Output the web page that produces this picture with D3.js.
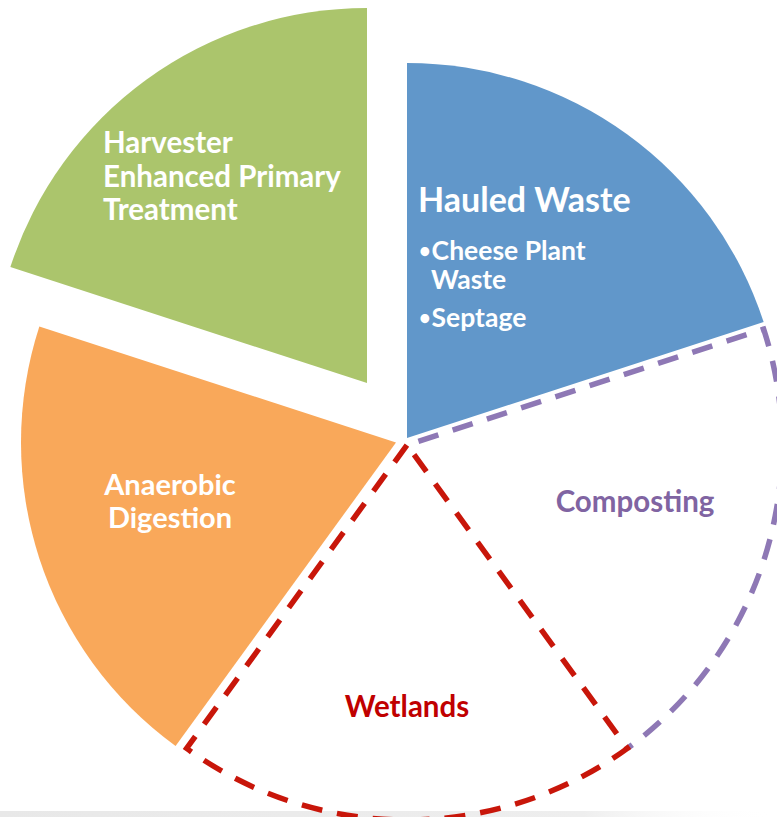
<!DOCTYPE html>
<html>
<head>
<meta charset="utf-8">
<script src="https://cdn.jsdelivr.net/npm/d3@7"></script>
<style>
  html, body { margin: 0; padding: 0; background: #ffffff; }
  svg { display: block; }
</style>
</head>
<body>
<svg id="chart" width="777" height="817"></svg>
<script>
// Treatment pathways, one equal share each, clockwise from 12 o'clock
const categories = ["Hauled Waste", "Composting", "Wetlands", "Anaerobic Digestion", "Harvester Enhanced Primary Treatment"];
const shares = [20, 20, 20, 20, 20];

// Text drawn inside each slice
const titleLines = [["Hauled Waste"], ["Composting"], ["Wetlands"], ["Anaerobic", "Digestion"], ["Harvester", "Enhanced Primary", "Treatment"]];
const hauledItems = [["Cheese Plant", "Waste"], ["Septage"]];

// Slice styling and placement
const fills   = ["#6197CA", "none", "none", "#F9A85A", "#ABC56C"];
const strokes = [null, "#8E78B5", "#C8160A", null, null];
const textColors = ["#ffffff", "#8064A2", "#C00000", "#ffffff", "#ffffff"];
const shifts = [[0, 0], [0, 7], [0, 7], [-11, 4.5], [-40, -55]];
// outlined slices that leave their trailing straight edge to the next outline
const openOutline = [false, true, false, false, false];

const W = 777, H = 817;
const cx = 407, cy = 438, R = 375;

const svg = d3.select("#chart");

// faint shadow strip along the bottom edge
const defs = svg.append("defs");
const grad = defs.append("linearGradient").attr("id", "floor").attr("x1", 0).attr("x2", 1).attr("y1", 0).attr("y2", 0);
grad.append("stop").attr("offset", "0%").attr("stop-color", "#e8e8e8");
grad.append("stop").attr("offset", "75%").attr("stop-color", "#eeeeee");
grad.append("stop").attr("offset", "100%").attr("stop-color", "#ffffff").attr("stop-opacity", 0);
svg.append("rect").attr("x", 0).attr("y", H - 6).attr("width", W).attr("height", 6).attr("fill", "url(#floor)");

const pie = d3.pie().sort(null).value(d => d).startAngle(0).endAngle(2 * Math.PI);
const arc = d3.arc().innerRadius(0).outerRadius(R);
const slices = pie(shares);

// outline from the apex: out along the leading edge, round the rim, and back in
function outlinePath(s, closeBack) {
  const p = d3.path();
  const a0 = s.startAngle - Math.PI / 2, a1 = s.endAngle - Math.PI / 2;
  p.moveTo(0, 0);
  p.lineTo(R * Math.cos(a0), R * Math.sin(a0));
  p.arc(0, 0, R, a0, a1, false);
  if (closeBack) p.lineTo(0, 0);
  return p.toString();
}

// filled slices first, outlined slices on top (wetlands last)
const drawOrder = [0, 3, 4, 1, 2];
const g = svg.append("g").attr("transform", `translate(${cx},${cy})`);

const nodes = g.selectAll("g.slice")
  .data(drawOrder.map(i => ({ ...slices[i], i })))
  .join("g")
  .attr("class", "slice")
  .attr("transform", d => `translate(${shifts[d.i][0]},${shifts[d.i][1]})`);

nodes.filter(d => fills[d.i] !== "none")
  .append("path")
  .attr("d", arc)
  .attr("fill", d => fills[d.i]);

nodes.filter(d => strokes[d.i])
  .append("path")
  .attr("d", d => outlinePath(d, !openOutline[d.i]))
  .attr("fill", "none")
  .attr("stroke", d => strokes[d.i])
  .attr("stroke-width", 5.5)
  .attr("stroke-dasharray", "21,15")
  .attr("stroke-dashoffset", -12);

const font = "Lato, 'Open Sans', sans-serif";

// label layout: [x, firstBaseline, lineStep, anchor, size]
const labelLayout = [
  [418, 212, 0, "start", 34],
  [635, 512, 0, "middle", 29.5],
  [407, 717, 0, "middle", 29.5],
  [170, 495, 32.5, "middle", 29],
  [103, 153, 33.5, "start", 29.5]
];

titleLines.forEach((lines, i) => {
  const [x, y0, step, anchor, size] = labelLayout[i];
  const t = svg.append("text")
    .attr("font-family", font)
    .attr("font-weight", 700)
    .attr("font-size", size)
    .attr("fill", textColors[i])
    .attr("text-anchor", anchor);
  lines.forEach((ln, k) => {
    t.append("tspan").attr("x", x).attr("y", y0 + k * step).text(ln);
  });
});

// bullet list under the hauled waste heading
const itemLayout = [[419, 260, 431, 29], [419, 327, 431, 29]];
hauledItems.forEach((item, j) => {
  const [x, y, xCont, step] = itemLayout[j];
  const t = svg.append("text")
    .attr("font-family", font)
    .attr("font-weight", 700)
    .attr("font-size", 26.5)
    .attr("fill", "#ffffff");
  item.forEach((ln, k) => {
    if (k === 0) {
      t.append("tspan").attr("x", x).attr("y", y).attr("font-size", 20).attr("dy", -2).text("•");
      t.append("tspan").attr("dx", 1).attr("y", y).text(ln);
    } else {
      t.append("tspan").attr("x", xCont).attr("y", y + k * step).text(ln);
    }
  });
});
</script>
</body>
</html>
